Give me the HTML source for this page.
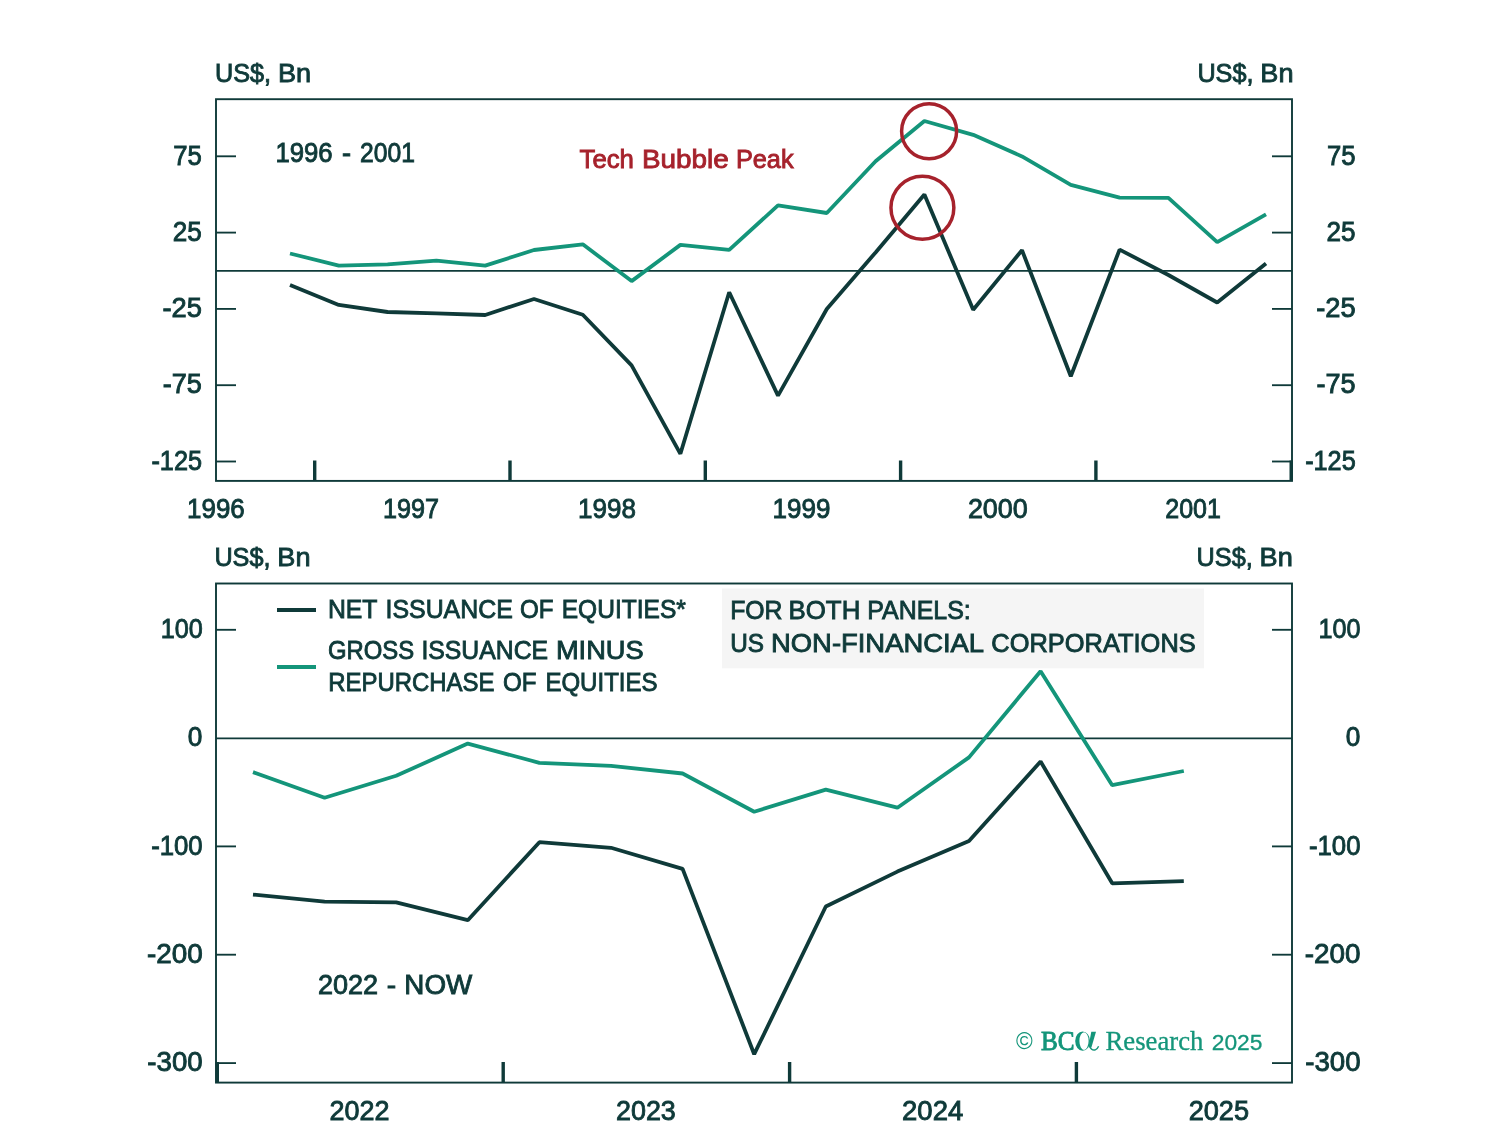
<!DOCTYPE html>
<html><head><meta charset="utf-8"><style>
html,body{margin:0;padding:0;background:#fff;}
svg{display:block;will-change:transform;}

</style></head><body>
<svg width="1508" height="1144" viewBox="0 0 1508 1144">
<rect width="1508" height="1144" fill="#fff"/>
<rect x="722" y="588.5" width="482" height="79.8" fill="#f5f5f5"/>
<rect x="216" y="99.2" width="1076" height="381.7" fill="none" stroke="#0f3a39" stroke-width="1.9"/>
<rect x="216" y="583.5" width="1076" height="499.0999999999999" fill="none" stroke="#0f3a39" stroke-width="1.9"/>
<line x1="216" y1="270.9" x2="1292" y2="270.9" stroke="#0f3a39" stroke-width="1.7"/>
<line x1="216" y1="738.4" x2="1292" y2="738.4" stroke="#0f3a39" stroke-width="1.7"/>
<line x1="216" y1="156.3" x2="236" y2="156.3" stroke="#0f3a39" stroke-width="1.85"/>
<line x1="1272" y1="156.3" x2="1292" y2="156.3" stroke="#0f3a39" stroke-width="1.85"/>
<line x1="216" y1="232.6" x2="236" y2="232.6" stroke="#0f3a39" stroke-width="1.85"/>
<line x1="1272" y1="232.6" x2="1292" y2="232.6" stroke="#0f3a39" stroke-width="1.85"/>
<line x1="216" y1="308.9" x2="236" y2="308.9" stroke="#0f3a39" stroke-width="1.85"/>
<line x1="1272" y1="308.9" x2="1292" y2="308.9" stroke="#0f3a39" stroke-width="1.85"/>
<line x1="216" y1="385.2" x2="236" y2="385.2" stroke="#0f3a39" stroke-width="1.85"/>
<line x1="1272" y1="385.2" x2="1292" y2="385.2" stroke="#0f3a39" stroke-width="1.85"/>
<line x1="216" y1="461.5" x2="236" y2="461.5" stroke="#0f3a39" stroke-width="1.85"/>
<line x1="1272" y1="461.5" x2="1292" y2="461.5" stroke="#0f3a39" stroke-width="1.85"/>
<line x1="216" y1="629.8" x2="236" y2="629.8" stroke="#0f3a39" stroke-width="1.85"/>
<line x1="1272" y1="629.8" x2="1292" y2="629.8" stroke="#0f3a39" stroke-width="1.85"/>
<line x1="216" y1="846.4" x2="236" y2="846.4" stroke="#0f3a39" stroke-width="1.85"/>
<line x1="1272" y1="846.4" x2="1292" y2="846.4" stroke="#0f3a39" stroke-width="1.85"/>
<line x1="216" y1="954.7" x2="236" y2="954.7" stroke="#0f3a39" stroke-width="1.85"/>
<line x1="1272" y1="954.7" x2="1292" y2="954.7" stroke="#0f3a39" stroke-width="1.85"/>
<line x1="216" y1="1063.1" x2="236" y2="1063.1" stroke="#0f3a39" stroke-width="1.85"/>
<line x1="1272" y1="1063.1" x2="1292" y2="1063.1" stroke="#0f3a39" stroke-width="1.85"/>
<line x1="314.7" y1="460.5" x2="314.7" y2="480.9" stroke="#0f3a39" stroke-width="3.4"/>
<line x1="510.0" y1="460.5" x2="510.0" y2="480.9" stroke="#0f3a39" stroke-width="3.4"/>
<line x1="705.3" y1="460.5" x2="705.3" y2="480.9" stroke="#0f3a39" stroke-width="3.4"/>
<line x1="900.6" y1="460.5" x2="900.6" y2="480.9" stroke="#0f3a39" stroke-width="3.4"/>
<line x1="1095.9" y1="460.5" x2="1095.9" y2="480.9" stroke="#0f3a39" stroke-width="3.4"/>
<line x1="1291.2" y1="460.5" x2="1291.2" y2="480.9" stroke="#0f3a39" stroke-width="3.4"/>
<line x1="217.3" y1="1062" x2="217.3" y2="1082.6" stroke="#0f3a39" stroke-width="3.4"/>
<line x1="503.2" y1="1062" x2="503.2" y2="1082.6" stroke="#0f3a39" stroke-width="3.4"/>
<line x1="789.6" y1="1062" x2="789.6" y2="1082.6" stroke="#0f3a39" stroke-width="3.4"/>
<line x1="1076.4" y1="1062" x2="1076.4" y2="1082.6" stroke="#0f3a39" stroke-width="3.4"/>
<polyline points="290.0,253.5 338.8,265.6 387.6,264.4 436.4,260.6 485.2,265.6 534.0,250.0 582.8,244.3 631.6,281.1 680.4,244.9 729.2,249.9 778.0,205.4 826.8,213.0 875.6,161.3 924.4,121.0 973.2,134.8 1022.0,156.4 1070.8,184.8 1119.6,197.6 1168.4,197.9 1217.2,242.2 1266.0,214.3" fill="none" stroke="#14957a" stroke-width="3.8" stroke-linejoin="bevel"/>
<polyline points="290.0,285.0 338.8,304.9 387.6,312.0 436.4,313.3 485.2,315.0 534.0,299.0 582.8,314.8 631.6,365.4 680.4,453.8 729.2,292.3 778.0,395.6 826.8,309.0 875.6,252.4 924.4,194.6 973.2,309.7 1022.0,250.2 1070.8,376.3 1119.6,249.6 1168.4,275.0 1217.2,302.5 1266.0,263.5" fill="none" stroke="#0f3a39" stroke-width="3.8" stroke-linejoin="bevel"/>
<polyline points="253.0,772.1 324.6,797.7 396.2,775.8 467.8,743.6 539.4,762.8 611.0,765.9 682.6,773.5 754.2,811.7 825.8,789.6 897.4,807.7 969.0,757.4 1040.6,671.2 1112.2,785.2 1183.8,771.0" fill="none" stroke="#14957a" stroke-width="3.8" stroke-linejoin="bevel"/>
<polyline points="253.0,894.6 324.6,901.6 396.2,902.3 467.8,920.2 539.4,842.2 611.0,847.8 682.6,868.9 754.2,1054.2 825.8,906.5 897.4,871.6 969.0,841.1 1040.6,761.5 1112.2,883.3 1183.8,881.1" fill="none" stroke="#0f3a39" stroke-width="3.8" stroke-linejoin="bevel"/>
<circle cx="929.1" cy="131.3" r="27.5" fill="none" stroke="#a6222c" stroke-width="3.5"/>
<circle cx="922.4" cy="207.8" r="31.45" fill="none" stroke="#a6222c" stroke-width="3.5"/>
<line x1="277" y1="610" x2="316" y2="610" stroke="#0f3a39" stroke-width="4"/>
<path fill="#14957a" fill-rule="evenodd" d="M1075.2,1041.1 a7.4,9.6 0 1,0 14.8,0 a7.4,9.6 0 1,0 -14.8,0 Z M1079.4,1041.1 a4.6,8.8 0 1,0 9.2,0 a4.6,8.8 0 1,0 -9.2,0 Z"/>
<path fill="#14957a" d="M1091.3,1031.8 L1096.0,1031.8 L1091.4,1047.6 L1088.4,1047.2 Z"/>
<path fill="none" stroke="#14957a" stroke-width="1.4" d="M1089.6,1046.2 Q1091.6,1050.9 1095.3,1049.9 Q1097.4,1049.2 1098.6,1046.3"/>
<line x1="277" y1="667" x2="316" y2="667" stroke="#14957a" stroke-width="4"/>
<text x="215.0" y="81.75" font-size="26.6" font-family="&quot;Liberation Sans&quot;, sans-serif" font-weight="normal" fill="#0f3a39" stroke="#0f3a39" stroke-width="0.9" textLength="56.12" lengthAdjust="spacingAndGlyphs">US$,</text>
<text x="277.96" y="81.75" font-size="26.6" font-family="&quot;Liberation Sans&quot;, sans-serif" font-weight="normal" fill="#0f3a39" stroke="#0f3a39" stroke-width="0.9" textLength="33.2" lengthAdjust="spacingAndGlyphs">Bn</text>
<text x="1197.4" y="81.75" font-size="26.6" font-family="&quot;Liberation Sans&quot;, sans-serif" font-weight="normal" fill="#0f3a39" stroke="#0f3a39" stroke-width="0.9" textLength="56.12" lengthAdjust="spacingAndGlyphs">US$,</text>
<text x="1260.36" y="81.75" font-size="26.6" font-family="&quot;Liberation Sans&quot;, sans-serif" font-weight="normal" fill="#0f3a39" stroke="#0f3a39" stroke-width="0.9" textLength="33.2" lengthAdjust="spacingAndGlyphs">Bn</text>
<text x="214.4" y="566.25" font-size="26.6" font-family="&quot;Liberation Sans&quot;, sans-serif" font-weight="normal" fill="#0f3a39" stroke="#0f3a39" stroke-width="0.9" textLength="56.11" lengthAdjust="spacingAndGlyphs">US$,</text>
<text x="277.36" y="566.25" font-size="26.6" font-family="&quot;Liberation Sans&quot;, sans-serif" font-weight="normal" fill="#0f3a39" stroke="#0f3a39" stroke-width="0.9" textLength="33.2" lengthAdjust="spacingAndGlyphs">Bn</text>
<text x="1196.6" y="566.25" font-size="26.6" font-family="&quot;Liberation Sans&quot;, sans-serif" font-weight="normal" fill="#0f3a39" stroke="#0f3a39" stroke-width="0.9" textLength="56.12" lengthAdjust="spacingAndGlyphs">US$,</text>
<text x="1259.56" y="566.25" font-size="26.6" font-family="&quot;Liberation Sans&quot;, sans-serif" font-weight="normal" fill="#0f3a39" stroke="#0f3a39" stroke-width="0.9" textLength="33.2" lengthAdjust="spacingAndGlyphs">Bn</text>
<text x="173.26" y="164.55" font-size="27.2" font-family="&quot;Liberation Sans&quot;, sans-serif" font-weight="normal" fill="#0f3a39" stroke="#0f3a39" stroke-width="0.9" textLength="28.58" lengthAdjust="spacingAndGlyphs">75</text>
<text x="1326.96" y="164.55" font-size="27.2" font-family="&quot;Liberation Sans&quot;, sans-serif" font-weight="normal" fill="#0f3a39" stroke="#0f3a39" stroke-width="0.9" textLength="28.58" lengthAdjust="spacingAndGlyphs">75</text>
<text x="172.84" y="240.85" font-size="27.2" font-family="&quot;Liberation Sans&quot;, sans-serif" font-weight="normal" fill="#0f3a39" stroke="#0f3a39" stroke-width="0.9" textLength="29.0" lengthAdjust="spacingAndGlyphs">25</text>
<text x="1326.54" y="240.85" font-size="27.2" font-family="&quot;Liberation Sans&quot;, sans-serif" font-weight="normal" fill="#0f3a39" stroke="#0f3a39" stroke-width="0.9" textLength="29.0" lengthAdjust="spacingAndGlyphs">25</text>
<text x="162.5" y="317.15" font-size="27.2" font-family="&quot;Liberation Sans&quot;, sans-serif" font-weight="normal" fill="#0f3a39" stroke="#0f3a39" stroke-width="0.9" textLength="39.4" lengthAdjust="spacingAndGlyphs">-25</text>
<text x="1316.2" y="317.15" font-size="27.2" font-family="&quot;Liberation Sans&quot;, sans-serif" font-weight="normal" fill="#0f3a39" stroke="#0f3a39" stroke-width="0.9" textLength="39.4" lengthAdjust="spacingAndGlyphs">-25</text>
<text x="162.81" y="393.45" font-size="27.2" font-family="&quot;Liberation Sans&quot;, sans-serif" font-weight="normal" fill="#0f3a39" stroke="#0f3a39" stroke-width="0.9" textLength="39.09" lengthAdjust="spacingAndGlyphs">-75</text>
<text x="1316.51" y="393.45" font-size="27.2" font-family="&quot;Liberation Sans&quot;, sans-serif" font-weight="normal" fill="#0f3a39" stroke="#0f3a39" stroke-width="0.9" textLength="39.09" lengthAdjust="spacingAndGlyphs">-75</text>
<text x="151.47" y="469.75" font-size="27.2" font-family="&quot;Liberation Sans&quot;, sans-serif" font-weight="normal" fill="#0f3a39" stroke="#0f3a39" stroke-width="0.9" textLength="50.52" lengthAdjust="spacingAndGlyphs">-125</text>
<text x="1305.17" y="469.75" font-size="27.2" font-family="&quot;Liberation Sans&quot;, sans-serif" font-weight="normal" fill="#0f3a39" stroke="#0f3a39" stroke-width="0.9" textLength="50.52" lengthAdjust="spacingAndGlyphs">-125</text>
<text x="160.65" y="638.05" font-size="27.2" font-family="&quot;Liberation Sans&quot;, sans-serif" font-weight="normal" fill="#0f3a39" stroke="#0f3a39" stroke-width="0.9" textLength="42.0" lengthAdjust="spacingAndGlyphs">100</text>
<text x="1318.45" y="638.05" font-size="27.2" font-family="&quot;Liberation Sans&quot;, sans-serif" font-weight="normal" fill="#0f3a39" stroke="#0f3a39" stroke-width="0.9" textLength="42.0" lengthAdjust="spacingAndGlyphs">100</text>
<text x="187.84" y="746.35" font-size="27.2" font-family="&quot;Liberation Sans&quot;, sans-serif" font-weight="normal" fill="#0f3a39" stroke="#0f3a39" stroke-width="0.9" textLength="14.58" lengthAdjust="spacingAndGlyphs">0</text>
<text x="1345.64" y="746.35" font-size="27.2" font-family="&quot;Liberation Sans&quot;, sans-serif" font-weight="normal" fill="#0f3a39" stroke="#0f3a39" stroke-width="0.9" textLength="14.58" lengthAdjust="spacingAndGlyphs">0</text>
<text x="151.15" y="854.65" font-size="27.2" font-family="&quot;Liberation Sans&quot;, sans-serif" font-weight="normal" fill="#0f3a39" stroke="#0f3a39" stroke-width="0.9" textLength="51.55" lengthAdjust="spacingAndGlyphs">-100</text>
<text x="1308.95" y="854.65" font-size="27.2" font-family="&quot;Liberation Sans&quot;, sans-serif" font-weight="normal" fill="#0f3a39" stroke="#0f3a39" stroke-width="0.9" textLength="51.55" lengthAdjust="spacingAndGlyphs">-100</text>
<text x="146.98" y="962.95" font-size="27.2" font-family="&quot;Liberation Sans&quot;, sans-serif" font-weight="normal" fill="#0f3a39" stroke="#0f3a39" stroke-width="0.9" textLength="55.76" lengthAdjust="spacingAndGlyphs">-200</text>
<text x="1304.78" y="962.95" font-size="27.2" font-family="&quot;Liberation Sans&quot;, sans-serif" font-weight="normal" fill="#0f3a39" stroke="#0f3a39" stroke-width="0.9" textLength="55.76" lengthAdjust="spacingAndGlyphs">-200</text>
<text x="147.38" y="1071.35" font-size="27.2" font-family="&quot;Liberation Sans&quot;, sans-serif" font-weight="normal" fill="#0f3a39" stroke="#0f3a39" stroke-width="0.9" textLength="55.35" lengthAdjust="spacingAndGlyphs">-300</text>
<text x="1305.18" y="1071.35" font-size="27.2" font-family="&quot;Liberation Sans&quot;, sans-serif" font-weight="normal" fill="#0f3a39" stroke="#0f3a39" stroke-width="0.9" textLength="55.35" lengthAdjust="spacingAndGlyphs">-300</text>
<text x="187.09" y="517.85" font-size="27.2" font-family="&quot;Liberation Sans&quot;, sans-serif" font-weight="normal" fill="#0f3a39" stroke="#0f3a39" stroke-width="0.9" textLength="57.67" lengthAdjust="spacingAndGlyphs">1996</text>
<text x="383.05" y="517.85" font-size="27.2" font-family="&quot;Liberation Sans&quot;, sans-serif" font-weight="normal" fill="#0f3a39" stroke="#0f3a39" stroke-width="0.9" textLength="56.0" lengthAdjust="spacingAndGlyphs">1997</text>
<text x="578.09" y="517.85" font-size="27.2" font-family="&quot;Liberation Sans&quot;, sans-serif" font-weight="normal" fill="#0f3a39" stroke="#0f3a39" stroke-width="0.9" textLength="57.88" lengthAdjust="spacingAndGlyphs">1998</text>
<text x="772.49" y="517.85" font-size="27.2" font-family="&quot;Liberation Sans&quot;, sans-serif" font-weight="normal" fill="#0f3a39" stroke="#0f3a39" stroke-width="0.9" textLength="57.88" lengthAdjust="spacingAndGlyphs">1999</text>
<text x="967.91" y="517.85" font-size="27.2" font-family="&quot;Liberation Sans&quot;, sans-serif" font-weight="normal" fill="#0f3a39" stroke="#0f3a39" stroke-width="0.9" textLength="59.87" lengthAdjust="spacingAndGlyphs">2000</text>
<text x="1165.28" y="517.85" font-size="27.2" font-family="&quot;Liberation Sans&quot;, sans-serif" font-weight="normal" fill="#0f3a39" stroke="#0f3a39" stroke-width="0.9" textLength="55.67" lengthAdjust="spacingAndGlyphs">2001</text>
<text x="329.51" y="1119.85" font-size="27.2" font-family="&quot;Liberation Sans&quot;, sans-serif" font-weight="normal" fill="#0f3a39" stroke="#0f3a39" stroke-width="0.9" textLength="59.87" lengthAdjust="spacingAndGlyphs">2022</text>
<text x="616.01" y="1119.85" font-size="27.2" font-family="&quot;Liberation Sans&quot;, sans-serif" font-weight="normal" fill="#0f3a39" stroke="#0f3a39" stroke-width="0.9" textLength="59.77" lengthAdjust="spacingAndGlyphs">2023</text>
<text x="902.09" y="1119.85" font-size="27.2" font-family="&quot;Liberation Sans&quot;, sans-serif" font-weight="normal" fill="#0f3a39" stroke="#0f3a39" stroke-width="0.9" textLength="61.1" lengthAdjust="spacingAndGlyphs">2024</text>
<text x="1188.7" y="1119.85" font-size="27.2" font-family="&quot;Liberation Sans&quot;, sans-serif" font-weight="normal" fill="#0f3a39" stroke="#0f3a39" stroke-width="0.9" textLength="60.28" lengthAdjust="spacingAndGlyphs">2025</text>
<text x="275.41" y="161.55" font-size="27.2" font-family="&quot;Liberation Sans&quot;, sans-serif" font-weight="normal" fill="#0f3a39" stroke="#0f3a39" stroke-width="0.9" textLength="57.25" lengthAdjust="spacingAndGlyphs">1996</text>
<text x="342.1" y="161.55" font-size="27.2" font-family="&quot;Liberation Sans&quot;, sans-serif" font-weight="normal" fill="#0f3a39" stroke="#0f3a39" stroke-width="0.9" textLength="9.06" lengthAdjust="spacingAndGlyphs">-</text>
<text x="360.09" y="161.55" font-size="27.2" font-family="&quot;Liberation Sans&quot;, sans-serif" font-weight="normal" fill="#0f3a39" stroke="#0f3a39" stroke-width="0.9" textLength="54.85" lengthAdjust="spacingAndGlyphs">2001</text>
<text x="579.5" y="167.75" font-size="26.6" font-family="&quot;Liberation Sans&quot;, sans-serif" font-weight="normal" fill="#a6222c" stroke="#a6222c" stroke-width="0.9" textLength="54.45" lengthAdjust="spacingAndGlyphs">Tech</text>
<text x="641.9" y="167.75" font-size="26.6" font-family="&quot;Liberation Sans&quot;, sans-serif" font-weight="normal" fill="#a6222c" stroke="#a6222c" stroke-width="0.9" textLength="86.75" lengthAdjust="spacingAndGlyphs">Bubble</text>
<text x="735.9" y="167.75" font-size="26.6" font-family="&quot;Liberation Sans&quot;, sans-serif" font-weight="normal" fill="#a6222c" stroke="#a6222c" stroke-width="0.9" textLength="57.65" lengthAdjust="spacingAndGlyphs">Peak</text>
<text x="327.94" y="618.25" font-size="26.6" font-family="&quot;Liberation Sans&quot;, sans-serif" font-weight="normal" fill="#0f3a39" stroke="#0f3a39" stroke-width="0.9" textLength="49.54" lengthAdjust="spacingAndGlyphs">NET</text>
<text x="385.53" y="618.25" font-size="26.6" font-family="&quot;Liberation Sans&quot;, sans-serif" font-weight="normal" fill="#0f3a39" stroke="#0f3a39" stroke-width="0.9" textLength="127.28" lengthAdjust="spacingAndGlyphs">ISSUANCE</text>
<text x="519.89" y="618.25" font-size="26.6" font-family="&quot;Liberation Sans&quot;, sans-serif" font-weight="normal" fill="#0f3a39" stroke="#0f3a39" stroke-width="0.9" textLength="33.55" lengthAdjust="spacingAndGlyphs">OF</text>
<text x="561.75" y="618.25" font-size="26.6" font-family="&quot;Liberation Sans&quot;, sans-serif" font-weight="normal" fill="#0f3a39" stroke="#0f3a39" stroke-width="0.9" textLength="124.07" lengthAdjust="spacingAndGlyphs">EQUITIES*</text>
<text x="327.9" y="658.65" font-size="26.6" font-family="&quot;Liberation Sans&quot;, sans-serif" font-weight="normal" fill="#0f3a39" stroke="#0f3a39" stroke-width="0.9" textLength="86.25" lengthAdjust="spacingAndGlyphs">GROSS</text>
<text x="421.44" y="658.65" font-size="26.6" font-family="&quot;Liberation Sans&quot;, sans-serif" font-weight="normal" fill="#0f3a39" stroke="#0f3a39" stroke-width="0.9" textLength="126.67" lengthAdjust="spacingAndGlyphs">ISSUANCE</text>
<text x="555.95" y="658.65" font-size="26.6" font-family="&quot;Liberation Sans&quot;, sans-serif" font-weight="normal" fill="#0f3a39" stroke="#0f3a39" stroke-width="0.9" textLength="87.77" lengthAdjust="spacingAndGlyphs">MINUS</text>
<text x="328.2" y="691.35" font-size="26.6" font-family="&quot;Liberation Sans&quot;, sans-serif" font-weight="normal" fill="#0f3a39" stroke="#0f3a39" stroke-width="0.9" textLength="166.25" lengthAdjust="spacingAndGlyphs">REPURCHASE</text>
<text x="502.89" y="691.35" font-size="26.6" font-family="&quot;Liberation Sans&quot;, sans-serif" font-weight="normal" fill="#0f3a39" stroke="#0f3a39" stroke-width="0.9" textLength="33.55" lengthAdjust="spacingAndGlyphs">OF</text>
<text x="545.39" y="691.35" font-size="26.6" font-family="&quot;Liberation Sans&quot;, sans-serif" font-weight="normal" fill="#0f3a39" stroke="#0f3a39" stroke-width="0.9" textLength="112.24" lengthAdjust="spacingAndGlyphs">EQUITIES</text>
<text x="730.14" y="619.35" font-size="26.6" font-family="&quot;Liberation Sans&quot;, sans-serif" font-weight="normal" fill="#0f3a39" stroke="#0f3a39" stroke-width="0.9" textLength="52.33" lengthAdjust="spacingAndGlyphs">FOR</text>
<text x="788.56" y="619.35" font-size="26.6" font-family="&quot;Liberation Sans&quot;, sans-serif" font-weight="normal" fill="#0f3a39" stroke="#0f3a39" stroke-width="0.9" textLength="71.76" lengthAdjust="spacingAndGlyphs">BOTH</text>
<text x="867.33" y="619.35" font-size="26.6" font-family="&quot;Liberation Sans&quot;, sans-serif" font-weight="normal" fill="#0f3a39" stroke="#0f3a39" stroke-width="0.9" textLength="103.46" lengthAdjust="spacingAndGlyphs">PANELS:</text>
<text x="730.17" y="652.35" font-size="26.6" font-family="&quot;Liberation Sans&quot;, sans-serif" font-weight="normal" fill="#0f3a39" stroke="#0f3a39" stroke-width="0.9" textLength="33.8" lengthAdjust="spacingAndGlyphs">US</text>
<text x="771.04" y="652.35" font-size="26.6" font-family="&quot;Liberation Sans&quot;, sans-serif" font-weight="normal" fill="#0f3a39" stroke="#0f3a39" stroke-width="0.9" textLength="213.04" lengthAdjust="spacingAndGlyphs">NON-FINANCIAL</text>
<text x="991.34" y="652.35" font-size="26.6" font-family="&quot;Liberation Sans&quot;, sans-serif" font-weight="normal" fill="#0f3a39" stroke="#0f3a39" stroke-width="0.9" textLength="204.37" lengthAdjust="spacingAndGlyphs">CORPORATIONS</text>
<text x="318.0" y="993.55" font-size="27.0" font-family="&quot;Liberation Sans&quot;, sans-serif" font-weight="normal" fill="#0f3a39" stroke="#0f3a39" stroke-width="0.9" textLength="60.18" lengthAdjust="spacingAndGlyphs">2022</text>
<text x="386.76" y="993.55" font-size="27.0" font-family="&quot;Liberation Sans&quot;, sans-serif" font-weight="normal" fill="#0f3a39" stroke="#0f3a39" stroke-width="0.9" textLength="9.39" lengthAdjust="spacingAndGlyphs">-</text>
<text x="404.34" y="993.55" font-size="27.0" font-family="&quot;Liberation Sans&quot;, sans-serif" font-weight="normal" fill="#0f3a39" stroke="#0f3a39" stroke-width="0.9" textLength="67.94" lengthAdjust="spacingAndGlyphs">NOW</text>
<text x="1016.0" y="1049.0" font-size="23" font-family="&quot;Liberation Sans&quot;, sans-serif" font-weight="normal" fill="#14957a" textLength="16.75" lengthAdjust="spacingAndGlyphs">&#169;</text>
<text x="1041.0" y="1050.1" font-size="26.5" font-family="&quot;Liberation Serif&quot;, serif" font-weight="normal" fill="#14957a" stroke="#14957a" stroke-width="0.9" textLength="33.54" lengthAdjust="spacingAndGlyphs">BC</text>
<text x="1105.53" y="1050.3" font-size="27.5" font-family="&quot;Liberation Serif&quot;, serif" font-weight="normal" fill="#14957a" stroke="#14957a" stroke-width="0.3" textLength="97.96" lengthAdjust="spacingAndGlyphs">Research</text>
<text x="1211.69" y="1050.3" font-size="22.6" font-family="&quot;Liberation Sans&quot;, sans-serif" font-weight="normal" fill="#14957a" stroke="#14957a" stroke-width="0.3" textLength="50.78" lengthAdjust="spacingAndGlyphs">2025</text>
</svg>
</body></html>
